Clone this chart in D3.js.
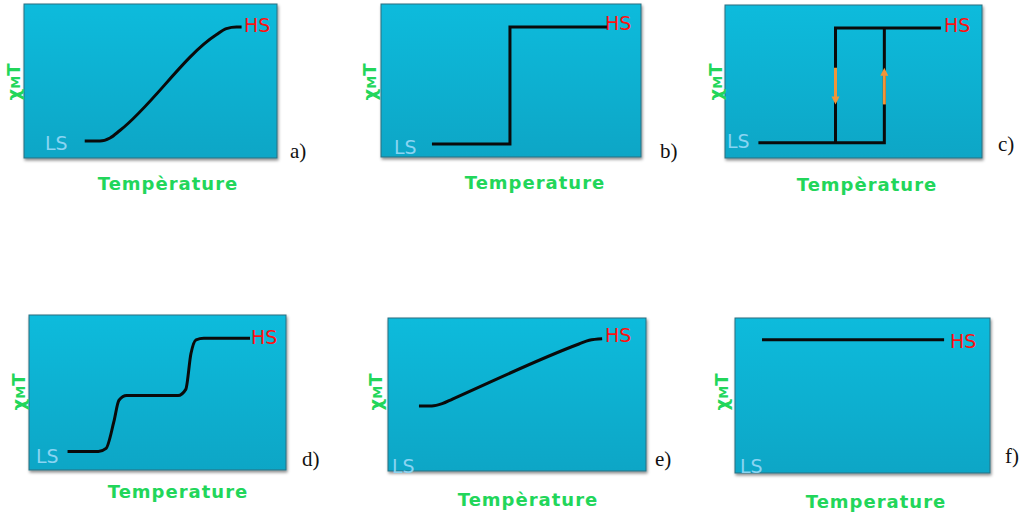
<!DOCTYPE html>
<html lang="en">
<head>
<meta charset="UTF-8">
<title>Spin crossover curves</title>
<script src="https://d3js.org/d3.v7.min.js"></script>
<style>
  body { margin: 0; background: #fff; }
  svg { display: block; }
</style>
</head>
<body>
<svg id="chart" width="1024" height="519"></svg>
<script>
// curve data in normalized units (0-100 of each panel's box)
const curveA = [[24,11],[30,11],[34,13],[38,18],[76,80],[80,84],[84,85],[86,85]];
const curveB = [[19.6,8.5],[49.6,8.5],[49.6,85],[87,85]];
const curveCLow = [[13,10],[62,10],[62,85]];
const curveCHigh = [[84,85],[43,85],[43,10]];
const curveD = [[15,12],[27,12],[30,14],[33,31],[35,45],[38,48],[58,48],[61,52],[63,75],[65,84],[68,85],[86,85]];
const curveE = [[12,42.5],[17,42.5],[21,44],[25,47],[74,83],[78,85.5],[83,86.5]];
const curveF = [[10.6,86],[82,86]];
const arrowsC = [{x: 43, y0: 59, y1: 35}, {x: 62, y0: 35, y1: 59}];
const panelLabels = ["a)", "b)", "c)", "d)", "e)", "f)"];
const tempLabels = ["Tempèrature", "Temperature", "Tempèrature", "Temperature", "Tempèrature", "Temperature"];

// layout of each panel box (pixels)
const panels = [
  {x: 24, y: 4, w: 253, h: 154, curves: [curveA], steps: false, ls: [45, 150], hs: [244, 32], lab: [290, 158], temp: [168, 190], chi: [14, 82]},
  {x: 381, y: 4, w: 260, h: 153, curves: [curveB], steps: true, ls: [394, 154], hs: [605, 30], lab: [660, 158], temp: [535, 189], chi: [370, 82]},
  {x: 725, y: 5, w: 257, h: 153, curves: [curveCLow, curveCHigh], steps: true, arrows: arrowsC, ls: [727, 148], hs: [944, 32], lab: [998, 151], temp: [867, 191], chi: [716, 82]},
  {x: 29, y: 315, w: 257, h: 155, curves: [curveD], steps: false, ls: [36, 463], hs: [251, 344], lab: [302, 466], temp: [178, 498], chi: [19, 392]},
  {x: 388, y: 318, w: 258, h: 153, curves: [curveE], steps: false, ls: [392, 473], hs: [605, 342], lab: [655, 466], temp: [528, 506], chi: [376, 392]},
  {x: 735, y: 318, w: 255, h: 155, curves: [curveF], steps: true, ls: [740, 473], hs: [950, 348], lab: [1005, 463], temp: [876, 508], chi: [722, 392]}
];

const svg = d3.select("#chart");
const defs = svg.append("defs");
const grad = defs.append("linearGradient").attr("id", "boxFill")
  .attr("x1", 0).attr("y1", 0).attr("x2", 0).attr("y2", 1);
grad.append("stop").attr("offset", "0%").attr("stop-color", "#10bbdc");
grad.append("stop").attr("offset", "100%").attr("stop-color", "#0ea6c6");
const shadow = defs.append("filter").attr("id", "shadow");
shadow.append("feDropShadow").attr("dx", 1).attr("dy", 2).attr("stdDeviation", 1.5).attr("flood-opacity", 0.45);

const green = "#22d65a";
const font = "'DejaVu Sans', sans-serif";

panels.forEach((p, i) => {
  const x = d3.scaleLinear().domain([0, 100]).range([p.x, p.x + p.w]);
  const y = d3.scaleLinear().domain([0, 100]).range([p.y + p.h, p.y]);
  const g = svg.append("g");

  g.append("rect").attr("x", p.x).attr("y", p.y).attr("width", p.w).attr("height", p.h)
    .attr("fill", "url(#boxFill)").attr("stroke", "#2a6f80").attr("stroke-width", 1)
    .attr("filter", "url(#shadow)");

  const line = d3.line().x(d => x(d[0])).y(d => y(d[1]))
    .curve(p.steps ? d3.curveLinear : d3.curveMonotoneX);
  p.curves.forEach(c => {
    g.append("path").datum(c).attr("d", line).attr("fill", "none")
      .attr("stroke", "#0a0a0a").attr("stroke-width", 3).attr("stroke-linejoin", "miter");
  });

  (p.arrows || []).forEach(a => {
    const x0 = x(a.x), ya = y(a.y0), yb = y(a.y1);
    const dir = yb > ya ? 1 : -1;
    g.append("line").attr("x1", x0).attr("x2", x0).attr("y1", ya).attr("y2", yb - dir * 6)
      .attr("stroke", "#f0953a").attr("stroke-width", 3);
    g.append("path")
      .attr("d", `M${x0 - 4},${yb - dir * 8}L${x0 + 4},${yb - dir * 8}L${x0},${yb}Z`)
      .attr("fill", "#f0953a");
  });

  g.append("text").attr("x", p.ls[0]).attr("y", p.ls[1]).text("LS")
    .attr("font-family", font).attr("font-size", 19).attr("fill", "#8ad4f2");
  g.append("text").attr("x", p.hs[0]).attr("y", p.hs[1]).text("HS")
    .attr("font-family", font).attr("font-size", 19).attr("fill", "#ff1010");
  g.append("text").attr("x", p.lab[0]).attr("y", p.lab[1]).text(panelLabels[i])
    .attr("font-family", "'Liberation Serif', serif").attr("font-size", 21).attr("fill", "#111");
  g.append("text").attr("x", p.temp[0]).attr("y", p.temp[1]).text(tempLabels[i])
    .attr("text-anchor", "middle").attr("font-family", font).attr("font-weight", "bold")
    .attr("font-size", 18).attr("letter-spacing", 1).attr("fill", green);
  const chi = g.append("text").attr("transform", `translate(${p.chi[0]},${p.chi[1]}) rotate(-90)`)
    .attr("text-anchor", "middle").attr("dy", "0.35em")
    .attr("font-family", font).attr("font-weight", "bold").attr("font-size", 18).attr("fill", green);
  chi.append("tspan").text("χ");
  chi.append("tspan").text("M").attr("font-size", 13);
  chi.append("tspan").text("T");
});
</script>
</body>
</html>
